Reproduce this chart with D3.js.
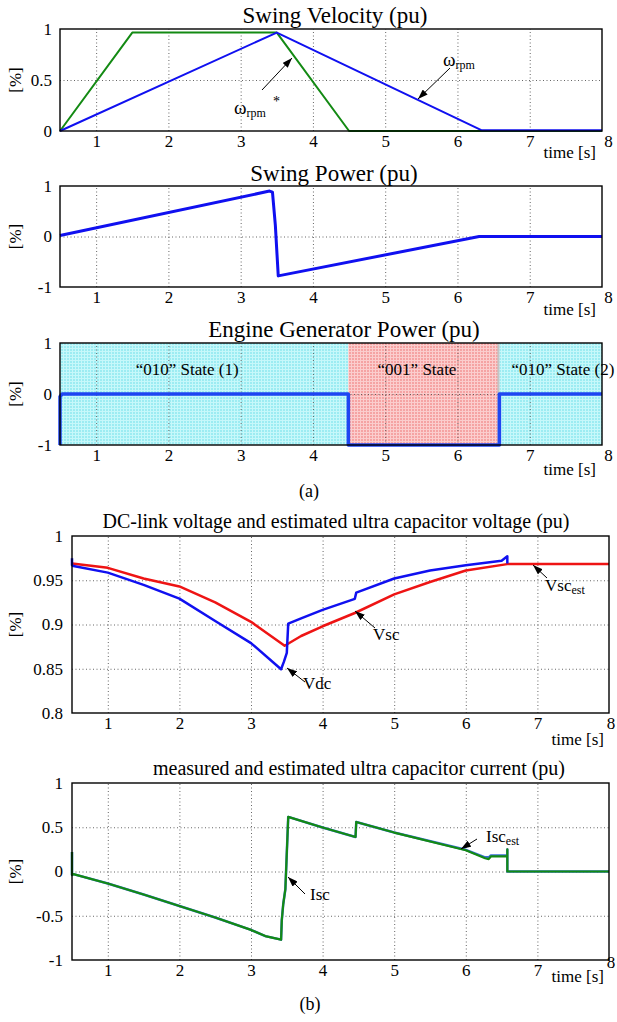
<!DOCTYPE html>
<html>
<head>
<meta charset="utf-8">
<script src="https://cdn.jsdelivr.net/npm/d3@7"></script>
<style>
  body { margin: 0; background: #fff; }
  svg { font-family: "Liberation Serif", "Times New Roman", serif; }
  .grid line { stroke: #555; stroke-dasharray: 1, 2.5; stroke-width: 0.9; }
  .grid path { display: none; }
  .lbl path, .lbl line { display: none; }
  .lbl text { font-size: 17px; fill: #000; font-family: "Liberation Serif", serif; }
</style>
</head>
<body>
<script>
// ---- data ----
const timeTicks = [1, 2, 3, 4, 5, 6, 7, 8];

// swing velocity
const velRefT = [0.5, 1.5, 3.5, 4.5, 8];
const velRefV = [0, 0.965, 0.965, 0, 0];
const velT = [0.5, 3.5, 6.33, 8];
const velV = [0, 0.965, 0.008, 0.008];

// swing power
const swingT = [0.5, 3.4, 3.44, 3.48, 3.52, 6.3, 8];
const swingV = [0.02, 0.9, 0.88, 0.22, -0.78, 0, 0];

// engine generator power
const engT = [0.5, 0.5, 0.53, 4.49, 4.49, 6.58, 6.58, 8];
const engV = [-1, -0.05, 0, 0, -1, -1, 0, 0];
const stateStart = [0.5, 4.49, 6.58];
const stateEnd = [4.49, 6.58, 8];
const stateName = ['\u201C010\u201D State (1)', '\u201C001\u201D State', '\u201C010\u201D State (2)'];
const stateLabelT = [2.26, 5.44, 7.46];
const stateKind = ['cyan', 'pink', 'cyan'];

// dc-link / ultra capacitor voltage
const vdcT = [0.5, 0.5, 0.52, 1, 1.5, 2, 2.5, 3, 3.42, 3.46, 3.5, 3.52, 3.7, 4, 4.45, 4.47, 5, 5.5, 6, 6.5, 6.58, 6.58];
const vdcV = [0.975, 0.967, 0.966, 0.9586, 0.9447, 0.9293, 0.904, 0.879, 0.8495, 0.858, 0.868, 0.901, 0.907, 0.9165, 0.929, 0.936, 0.952, 0.961, 0.967, 0.972, 0.977, 0.969];
const vscT = [0.5, 1, 1.5, 2, 2.5, 3, 3.47, 3.7, 4, 4.45, 5, 5.5, 6, 6.6, 8];
const vscV = [0.969, 0.964, 0.952, 0.943, 0.925, 0.903, 0.876, 0.887, 0.898, 0.913, 0.934, 0.948, 0.961, 0.9685, 0.9685];

// ultra capacitor current
const iscT = [0.5, 0.5, 0.52, 1, 1.5, 2, 2.5, 3, 3.2, 3.42, 3.43, 3.45, 3.48, 3.52, 4, 4.46, 4.47, 5, 6, 6.27, 6.32, 6.35, 6.58, 6.58, 6.58, 8];
const iscV = [0.22, -0.04, -0.03, -0.135, -0.26, -0.39, -0.52, -0.66, -0.73, -0.77, -0.55, -0.37, -0.2, 0.617, 0.497, 0.39, 0.56, 0.44, 0.24, 0.15, 0.14, 0.17, 0.17, 0.25, 0, 0];
const iscMeasV = [0.22, -0.04, -0.03, -0.135, -0.26, -0.39, -0.52, -0.66, -0.73, -0.77, -0.55, -0.37, -0.2, 0.617, 0.497, 0.39, 0.56, 0.44, 0.245, 0.16, 0.16, 0.18, 0.18, 0.25, 0, 0];

// ---- drawing ----
const svg = d3.select('body').append('svg').attr('width', 617).attr('height', 1022);

const defs = svg.append('defs');
defs.append('marker')
  .attr('id', 'arr')
  .attr('markerUnits', 'userSpaceOnUse')
  .attr('markerWidth', 10).attr('markerHeight', 7)
  .attr('refX', 10).attr('refY', 3.5)
  .attr('orient', 'auto')
  .append('path').attr('d', 'M0,0 L10,3.5 L0,7 z').attr('fill', '#000');

const fills = { cyan: ['#9cecf2', '#c6f8fa'], pink: ['#f5a3a3', '#fbcdcd'] };
Object.keys(fills).forEach(k => {
  const p = defs.append('pattern').attr('id', 'pat-' + k)
    .attr('patternUnits', 'userSpaceOnUse').attr('width', 3).attr('height', 3);
  p.append('rect').attr('width', 3).attr('height', 3).attr('fill', fills[k][0]);
  p.append('rect').attr('width', 3).attr('height', 1).attr('fill', fills[k][1]);
  p.append('rect').attr('width', 1).attr('height', 3).attr('fill', fills[k][1]);
});

function panel(c) {
  const x = d3.scaleLinear().domain([0.5, 8]).range([c.left, c.right]);
  const y = d3.scaleLinear().domain(c.yDomain).range([c.bottom, c.top]);
  const g = svg.append('g');
  const layers = { back: g.append('g'), grid: g.append('g'), data: g.append('g'), front: g.append('g') };

  layers.grid.append('g').attr('class', 'grid')
    .attr('transform', `translate(0,${c.bottom})`)
    .call(d3.axisBottom(x).tickValues(timeTicks.filter(t => t < 8)).tickSize(-(c.bottom - c.top)).tickFormat(''));
  layers.grid.append('g').attr('class', 'grid')
    .attr('transform', `translate(${c.left},0)`)
    .call(d3.axisLeft(y).tickValues(c.yTicks.slice(1, -1)).tickSize(-(c.right - c.left)).tickFormat(''));

  layers.front.append('rect')
    .attr('x', c.left).attr('y', c.top)
    .attr('width', c.right - c.left).attr('height', c.bottom - c.top)
    .attr('fill', 'none').attr('stroke', '#000').attr('stroke-width', 1.4);

  const xa = layers.front.append('g').attr('class', 'lbl')
    .attr('transform', `translate(0,${c.bottom})`)
    .call(d3.axisBottom(x).tickValues(timeTicks).tickSize(0).tickPadding(4).tickFormat(d => String(d)));
  xa.selectAll('.tick').filter(d => d === 8).select('text')
    .attr('dx', c.lastDx).attr('y', c.lastDy || 4);

  layers.front.append('g').attr('class', 'lbl')
    .attr('transform', `translate(${c.left},0)`)
    .call(d3.axisLeft(y).tickValues(c.yTicks).tickSize(0).tickPadding(c.yPad).tickFormat(d => String(d)));

  layers.front.append('text')
    .attr('x', c.titleX).attr('y', c.titleY)
    .attr('text-anchor', 'middle').style('font-size', c.titleSize + 'px')
    .text(c.title);

  layers.front.append('text')
    .attr('transform', `translate(${c.yLabX},${(c.top + c.bottom) / 2}) rotate(-90)`)
    .attr('text-anchor', 'middle').attr('dy', '0.32em').style('font-size', '17px')
    .text('[%]');

  layers.front.append('text')
    .attr('x', c.timeX).attr('y', c.timeY)
    .attr('text-anchor', 'end').style('font-size', '17px')
    .text('time [s]');

  const line = d3.line().x(d => x(d[0])).y(d => y(d[1]));
  return { x, y, layers, line };
}

function drawLine(p, T, V, color, w) {
  p.layers.data.append('path')
    .attr('d', p.line(d3.zip(T, V)))
    .attr('fill', 'none').attr('stroke', color).attr('stroke-width', w)
    .attr('stroke-linejoin', 'round');
}

function arrow(x1, y1, x2, y2) {
  svg.append('line')
    .attr('x1', x1).attr('y1', y1).attr('x2', x2).attr('y2', y2)
    .attr('stroke', '#000').attr('stroke-width', 1)
    .attr('marker-end', 'url(#arr)');
}

function subLabel(x, y, main, sub, size) {
  const t = svg.append('text').attr('x', x).attr('y', y).style('font-size', size + 'px');
  t.append('tspan').text(main);
  t.append('tspan').attr('dy', 3).style('font-size', '12px').text(sub);
  return t;
}

// panel 1: swing velocity
const p1 = panel({
  left: 60, right: 602, top: 29, bottom: 131,
  yDomain: [0, 1], yTicks: [0, 0.5, 1], yPad: 8, yLabX: 16,
  title: 'Swing Velocity (pu)', titleX: 335, titleY: 23, titleSize: 23,
  timeX: 596, timeY: 158, lastDx: 6
});
drawLine(p1, velRefT, velRefV, '#138a13', 2);
drawLine(p1, velT, velV, '#1010f0', 2);
arrow(262, 90, 292, 58);
subLabel(234, 114, 'ω', 'rpm', 19);
svg.append('text').attr('x', 273).attr('y', 106).style('font-size', '14px').text('*');
arrow(450, 68, 418, 99);
subLabel(443, 66, 'ω', 'rpm', 19);

// panel 2: swing power
const p2 = panel({
  left: 60, right: 602, top: 186, bottom: 287,
  yDomain: [-1, 1], yTicks: [-1, 0, 1], yPad: 8, yLabX: 16,
  title: 'Swing Power (pu)', titleX: 334, titleY: 181, titleSize: 23,
  timeX: 596, timeY: 315, lastDx: 6
});
drawLine(p2, swingT, swingV, '#1010f0', 3);

// panel 3: engine generator power
const p3 = panel({
  left: 60, right: 602, top: 343, bottom: 445,
  yDomain: [-1, 1], yTicks: [-1, 0, 1], yPad: 8, yLabX: 16,
  title: 'Engine Generator Power (pu)', titleX: 344, titleY: 337, titleSize: 23,
  timeX: 596, timeY: 475, lastDx: 6
});
p3.layers.back.selectAll('rect')
  .data(d3.range(stateStart.length))
  .join('rect')
  .attr('x', i => p3.x(stateStart[i]))
  .attr('width', i => p3.x(stateEnd[i]) - p3.x(stateStart[i]))
  .attr('y', p3.y(1)).attr('height', p3.y(-1) - p3.y(1))
  .attr('fill', i => `url(#pat-${stateKind[i]})`);
p3.layers.back.append('rect')
  .attr('x', p3.x(stateEnd[1]) - 2).attr('width', 2)
  .attr('y', p3.y(1)).attr('height', p3.y(-1) - p3.y(1))
  .attr('fill', '#c4c4c4');
drawLine(p3, engT, engV, '#1f45f2', 3.5);
p3.layers.front.selectAll('.state')
  .data(d3.range(stateName.length))
  .join('text')
  .attr('class', 'state')
  .attr('x', i => p3.x(stateLabelT[i])).attr('y', 375)
  .attr('text-anchor', 'middle').style('font-size', '17px')
  .text(i => stateName[i]);

svg.append('text').attr('x', 309).attr('y', 497).attr('text-anchor', 'middle')
  .style('font-size', '18px').text('(a)');

// panel 4: dc-link voltage
const p4 = panel({
  left: 72, right: 609, top: 536, bottom: 713,
  yDomain: [0.8, 1], yTicks: [0.8, 0.85, 0.9, 0.95, 1], yPad: 9, yLabX: 16,
  title: 'DC-link voltage and estimated ultra capacitor voltage (pu)', titleX: 336, titleY: 528, titleSize: 20,
  timeX: 604, timeY: 745, lastDx: 1.5
});
drawLine(p4, vscT, vscV, '#ee1414', 2.5);
drawLine(p4, vdcT, vdcV, '#1010f0', 2.5);
arrow(305, 682, 287, 668);
svg.append('text').attr('x', 303).attr('y', 689).style('font-size', '17px').text('Vdc');
arrow(375, 628, 355, 611);
svg.append('text').attr('x', 373).attr('y', 640).style('font-size', '17px').text('Vsc');
arrow(547, 578, 533, 565);
subLabel(545, 591, 'Vsc', 'est', 17);

// panel 5: ultra capacitor current
const p5 = panel({
  left: 72, right: 609, top: 783, bottom: 960,
  yDomain: [-1, 1], yTicks: [-1, -0.5, 0, 0.5, 1], yPad: 9, yLabX: 16,
  title: 'measured and estimated ultra capacitor current (pu)', titleX: 359, titleY: 775, titleSize: 20,
  timeX: 604, timeY: 982, lastDx: 1.5, lastDy: -4
});
drawLine(p5, iscT, iscMeasV, '#3b6fd8', 2.5);
drawLine(p5, iscT, iscV, '#138a13', 2.2);
arrow(305, 894, 288, 877);
svg.append('text').attr('x', 310).attr('y', 900).style('font-size', '17px').text('Isc');
arrow(477, 839, 461, 849);
subLabel(486, 842, 'Isc', 'est', 17);

svg.append('text').attr('x', 310).attr('y', 1010).attr('text-anchor', 'middle')
  .style('font-size', '18px').text('(b)');
</script>
</body>
</html>
